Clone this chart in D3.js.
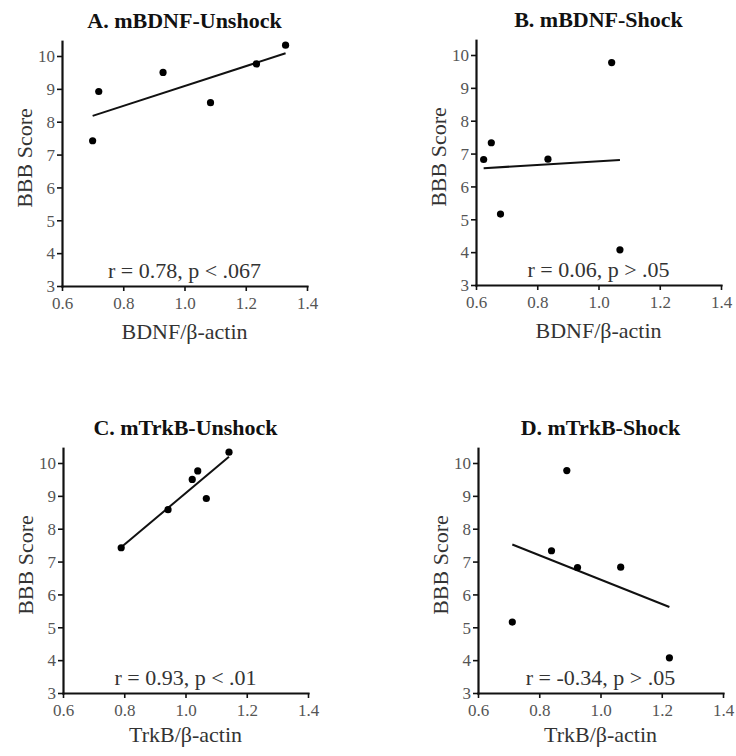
<!DOCTYPE html>
<html>
<head>
<meta charset="utf-8">
<script src="https://cdn.jsdelivr.net/npm/d3@7"></script>
<style>
  body { margin: 0; background: #fff; }
  svg { display: block; font-family: "Liberation Serif", "Times New Roman", serif; }
  .domain { stroke: #111; stroke-width: 2.2px; }
  .tick line { stroke: #111; stroke-width: 1.6px; }
</style>
</head>
<body>
<div id="chart"></div>
<script>

//values
const xTicks = [0.6, 0.8, 1.0, 1.2, 1.4];
const yTicks = [3, 4, 5, 6, 7, 8, 9, 10];

const titles = ["A. mBDNF-Unshock", "B. mBDNF-Shock", "C. mTrkB-Unshock", "D. mTrkB-Shock"];
const xLabels = ["BDNF/\u03b2-actin", "BDNF/\u03b2-actin", "TrkB/\u03b2-actin", "TrkB/\u03b2-actin"];
const stats = ["r = 0.78, p < .067", "r = 0.06, p > .05", "r = 0.93, p < .01", "r = -0.34, p > .05"];

const bdnfUnshockX = [0.70, 0.72, 0.93, 1.085, 1.235, 1.33];
const bdnfUnshockY = [7.42, 8.92, 9.5, 8.58, 9.76, 10.33];

const bdnfShockX = [0.625, 0.65, 0.68, 0.835, 1.043, 1.07];
const bdnfShockY = [6.82, 7.33, 5.16, 6.83, 9.77, 4.07];

const trkbUnshockX = [0.79, 0.943, 1.022, 1.04, 1.068, 1.142];
const trkbUnshockY = [7.42, 8.58, 9.5, 9.76, 8.92, 10.33];

const trkbShockX = [0.712, 0.84, 0.89, 0.925, 1.066, 1.225];
const trkbShockY = [5.16, 7.33, 9.77, 6.82, 6.83, 4.07];

const seriesX = [bdnfUnshockX, bdnfShockX, trkbUnshockX, trkbShockX];
const seriesY = [bdnfUnshockY, bdnfShockY, trkbUnshockY, trkbShockY];

const serif = "'Liberation Serif', 'Times New Roman', serif";


function drawPanels(){

	const width = 736;
	const height = 756;

	//plot size
	const pw = 245;
	const ph = 230;   // 3 -> 10
	const yTop = 10.45;

	//origin (x=0.6, y=3) of each panel
	const origins = [
		{x: 62, y: 286},
		{x: 476, y: 285},
		{x: 63, y: 693},
		{x: 478, y: 693}
	];
	const xLabelGap = [53, 53, 49, 49];

	let svg = d3.select("#chart")
		.append("svg")
		.attr("width", width)
		.attr("height", height);

	let x = d3.scaleLinear().domain([0.6, 1.4]).range([0, pw]);
	let y = d3.scaleLinear().domain([3, 10]).range([0, -ph]);

	//serif tick labels
	function styleAxis(a){
		a.attr("font-family", serif).attr("font-size", 17);
		a.selectAll(".tick text")
			.attr("fill", "#555")
			.style("font-family", serif)
			.style("font-size", "17px");
	}

	origins.forEach((o, i) => {

		let g = svg.append("g")
			.attr("transform", "translate(" + o.x + "," + o.y + ")");

		let pts = seriesX[i].map((v, j) => ({x: v, y: seriesY[i][j]}));

		//least squares line
		let mx = d3.mean(pts, d => d.x);
		let my = d3.mean(pts, d => d.y);
		let sxy = d3.sum(pts, d => (d.x - mx) * (d.y - my));
		let sxx = d3.sum(pts, d => (d.x - mx) * (d.x - mx));
		let slope = sxy / sxx;
		let ext = d3.extent(pts, d => d.x);

		//y axis
		let yAxisScale = y.copy().domain([3, yTop]).range([0, y(yTop)]);
		g.append("g")
			.call(d3.axisLeft(yAxisScale).tickValues(yTicks).tickSize(5).tickSizeOuter(0).tickPadding(2))
			.call(styleAxis)
			.call(a => a.selectAll(".tick text").attr("dy", "0.34em"));

		//x axis
		g.append("g")
			.call(d3.axisBottom(x).tickValues(xTicks).tickFormat(d3.format(".1f")).tickSize(5).tickSizeOuter(0).tickPadding(6))
			.call(styleAxis);

		g.selectAll(".domain").attr("stroke-linecap", "square");

		//regression line
		g.append("line")
			.attr("x1", x(ext[0]))
			.attr("x2", x(ext[1]))
			.attr("y1", y(my + slope * (ext[0] - mx)))
			.attr("y2", y(my + slope * (ext[1] - mx)))
			.attr("stroke", "#111")
			.attr("stroke-width", 2);

		//points
		g.selectAll(".pt")
			.data(pts)
			.enter().append("circle")
			.attr("class", "pt")
			.attr("cx", d => x(d.x))
			.attr("cy", d => y(d.y))
			.attr("r", 3.6)
			.attr("fill", "#000");

		//title
		g.append("text")
			.attr("x", pw / 2)
			.attr("y", y(10) - 28)
			.attr("text-anchor", "middle")
			.attr("font-weight", "bold")
			.attr("font-size", 22)
			.attr("fill", "#111")
			.text(titles[i]);

		//stats
		g.append("text")
			.attr("x", pw / 2)
			.attr("y", -8)
			.attr("text-anchor", "middle")
			.attr("font-size", 22)
			.attr("fill", "#333")
			.text(stats[i]);

		//x label
		g.append("text")
			.attr("x", pw / 2)
			.attr("y", xLabelGap[i])
			.attr("text-anchor", "middle")
			.attr("font-size", 22)
			.attr("fill", "#333")
			.text(xLabels[i]);

		//y label
		g.append("text")
			.attr("transform", "translate(-30," + (-128) + ") rotate(-90)")
			.attr("text-anchor", "middle")
			.attr("font-size", 22)
			.attr("fill", "#333")
			.text("BBB Score");
	});

}

drawPanels();
</script>
</body>
</html>
